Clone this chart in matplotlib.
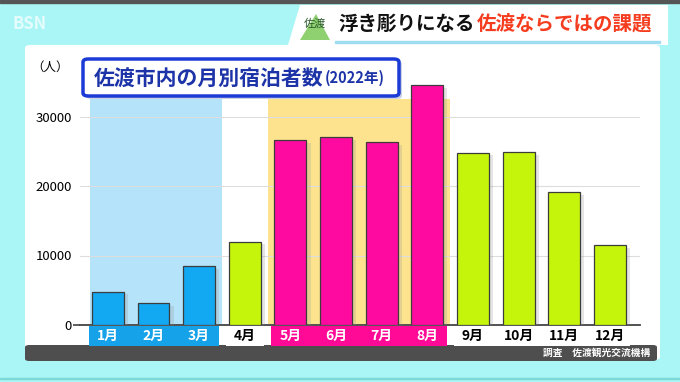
import matplotlib.pyplot as plt
import matplotlib.transforms as mtransforms
import matplotlib.patheffects as pe
from matplotlib.patches import Rectangle, FancyBboxPatch, Polygon

plt.rcParams['font.family'] = ['Noto Sans CJK JP', 'DejaVu Sans']

# data
months = ['1月', '2月', '3月', '4月', '5月', '6月', '7月', '8月', '9月', '10月', '11月', '12月']
guests = [4800, 3200, 8500, 12000, 26600, 27000, 26300, 34500, 24800, 24900, 19100, 11500]
season = ['off', 'off', 'off', 'mid', 'peak', 'peak', 'peak', 'peak', 'mid', 'mid', 'mid', 'mid']
yticks = [0, 10000, 20000, 30000]

bar_color = {'off': '#12a8f2', 'mid': '#c6f50c', 'peak': '#ff0aa0'}
lab_bg = {'off': '#16a2e8', 'mid': 'white', 'peak': '#ff0a96'}
lab_fg = {'off': 'white', 'mid': 'black', 'peak': 'white'}

W, H = 680, 382


def fx(x):
    return x / W


def fy(y):
    return 1 - y / H


fig = plt.figure(figsize=(6.8, 3.82), dpi=100)
fig.patch.set_facecolor('#aaf6f6')

# top dark strip
fig.patches.append(Rectangle((0, fy(3)), 1, 3 / H, transform=fig.transFigure,
                             color='#555555', zorder=0))
fig.text(fx(12), fy(24), 'BSN', color='white', alpha=0.7, fontsize=12,
         fontweight='bold', va='center')

# white panel + grey footer
fig.patches.append(FancyBboxPatch((fx(25), fy(360)), fx(635), 315 / H,
                                  boxstyle='round,pad=0,rounding_size=0.008',
                                  transform=fig.transFigure, fc='white',
                                  ec='none', zorder=0))
fig.patches.append(FancyBboxPatch((fx(25), fy(361)), fx(632), 16 / H,
                                  boxstyle='round,pad=0,rounding_size=0.006',
                                  transform=fig.transFigure, fc='#4e4e4e',
                                  ec='none', zorder=1))
fig.text(fx(650), fy(353), '調査　佐渡観光交流機構', color='white',
         fontsize=7, ha='right', va='center', fontweight='bold')
fig.patches.append(Rectangle((0, fy(379)), 1, 1.5 / H, transform=fig.transFigure,
                             color='#7fd8d8', zorder=0))

# headline banner
fig.patches.append(Polygon([(fx(300), fy(5)), (fx(668), fy(5)), (fx(668), fy(45)),
                            (fx(288), fy(45))], closed=True,
                           transform=fig.transFigure, fc='white', ec='none', zorder=1))
fig.patches.append(Rectangle((fx(335), fy(43)), fx(325), 2 / H,
                             transform=fig.transFigure, color='#9fdcf0', zorder=2))
fig.patches.append(Polygon([(fx(300), fy(40)), (fx(316), fy(14)), (fx(330), fy(40))],
                           closed=True, transform=fig.transFigure,
                           fc='#8fd070', ec='none', zorder=2))
fig.text(fx(315), fy(24), '佐渡', color='#2c5a2c', fontsize=8, ha='center',
         va='center', zorder=3)

# axes
ax = fig.add_axes([fx(80), fy(325), fx(560), 257 / H], zorder=2)
ax.set_facecolor('none')
x = list(range(len(months)))
ymax = 257 / 69.5 * 10000
ax.set_xlim(-0.61, 11.66)
ax.set_ylim(0, ymax)

# highlight bands behind off / peak season
ax.add_patch(Rectangle((-0.4, 0), 2.9, 32500, fc='#b4e3fa', ec='none', zorder=0))
ax.add_patch(Rectangle((3.5, 0), 4.0, 32500, fc='#fde38e', ec='none', zorder=0))

ax.set_yticks(yticks)
ax.set_yticklabels([str(v) for v in yticks])
ax.yaxis.grid(True, color='#dddddd', lw=0.8, zorder=1)
ax.set_axisbelow(True)
for s in ['top', 'right', 'left']:
    ax.spines[s].set_visible(False)
ax.spines['bottom'].set_color('#444444')
ax.spines['bottom'].set_linewidth(1.3)
ax.set_xticks([])
ax.tick_params(axis='y', length=5, width=1.2, color='#444444', pad=1,
               labelsize=9.5)
for t in ax.yaxis.get_major_ticks()[1:]:
    t.tick1line.set_visible(False)

bars = ax.bar(x, guests, width=0.7,
              color=[bar_color[s] for s in season],
              edgecolor='#3c3c3c', linewidth=0.9, zorder=3)
for b in bars:
    b.set_path_effects([pe.SimplePatchShadow(offset=(3, -2), shadow_rgbFace='#999999',
                                             alpha=0.25), pe.Normal()])

# month label strip: coloured runs per season group
trans = mtransforms.blended_transform_factory(ax.transData, ax.transAxes)
strip_h = 20 / 257
start = 0
for i in range(1, len(season) + 1):
    if i == len(season) or season[i] != season[start]:
        s = season[start]
        ax.add_patch(Rectangle((start - 0.42, -strip_h - 0.004), i - 1 - start + 0.85,
                               strip_h, transform=trans, fc=lab_bg[s], ec='none',
                               clip_on=False, zorder=2))
        start = i
for i, (m, s) in enumerate(zip(months, season)):
    ax.text(i, -strip_h / 2 - 0.004, m, transform=trans, ha='center', va='center',
            color=lab_fg[s], fontsize=10, fontweight='bold')

# overlay for texts that sit on top of everything
top = fig.add_axes([0, 0, 1, 1], zorder=10)
top.set_axis_off()
top.set_xlim(0, 1)
top.set_ylim(0, 1)

# unit label
top.text(fx(50), fy(67), '（人）', fontsize=9, ha='center', va='center')

# title box
top.add_patch(FancyBboxPatch((fx(86), fy(99)), fx(316), 38 / H,
                             boxstyle='round,pad=0,rounding_size=0.008',
                             fc='#9aa6c8', ec='none', alpha=0.5, zorder=4))
top.add_patch(FancyBboxPatch((fx(83), fy(96)), fx(316), 37 / H,
                             boxstyle='round,pad=0,rounding_size=0.008',
                             fc='white', ec='#1c3ad6', lw=2.5, zorder=5))
t1 = top.text(fx(94), fy(78), '佐渡市内の月別宿泊者数', color='#1c34a8',
              fontsize=15, fontweight='bold', va='center', zorder=6)
top.annotate('(2022年)', xy=(1, 0.12), xycoords=t1, xytext=(1, 0),
             textcoords='offset points', color='#1c34a8', fontsize=10.5,
             fontweight='bold', va='bottom', zorder=6)

# headline text
h1 = top.text(fx(338), fy(24), '浮き彫りになる', color='#111111', fontsize=14,
              fontweight='bold', va='center', zorder=3)
top.annotate('佐渡ならではの課題', xy=(1, 0), xycoords=h1, xytext=(2, 0),
             textcoords='offset points', color='#f53c1e', fontsize=14,
             fontweight='bold', va='bottom', zorder=3)

fig.savefig('out.png', dpi=100, facecolor=fig.get_facecolor())
